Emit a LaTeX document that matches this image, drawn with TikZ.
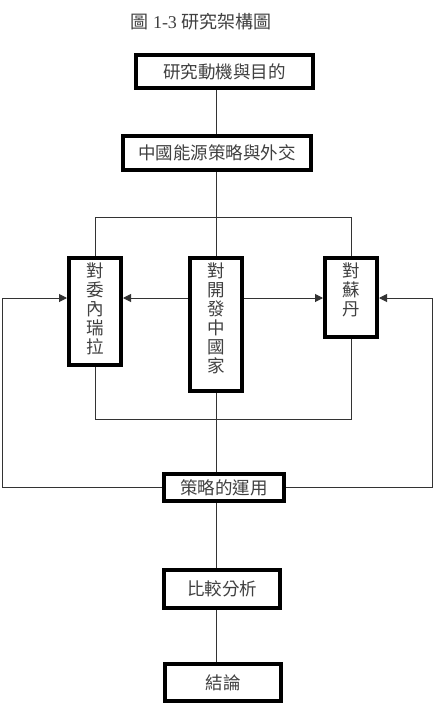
\documentclass[tikz,border=0pt]{standalone}
\usepackage{fontspec}
\setmainfont{Liberation Serif}
\newfontfamily\cjk{Noto Sans CJK TC}
\usetikzlibrary{arrows.meta,calc}
\definecolor{txtgray}{gray}{0.25}
\tikzset{
  bigbox/.style={draw=black,line width=4pt,fill=white,inner sep=0pt,text=txtgray,font=\cjk\fontsize{17.5}{19}\selectfont},
  conn/.style={draw=black!80,line width=1pt},
  arr/.style={conn,-{Triangle[length=8pt,width=8pt]}}
}
\newcommand{\vtext}[2]{\parbox[c][#1][t]{40pt}{\centering\vspace*{5pt}#2}}
\begin{document}
\begin{tikzpicture}[x=1pt,y=-1pt]
\useasboundingbox (0,0) rectangle (435,723);
\fill[white] (0,0) rectangle (435,723);
\node[text=txtgray] (title) at (201,22) {\fontsize{18}{20}\selectfont{\cjk 圖} 1-3 {\cjk 研究架構圖}};
\node[bigbox,minimum width=177pt,minimum height=33pt] (b1) at (224.5,71.5) {研究動機與目的};
\node[bigbox,minimum width=188pt,minimum height=34pt] (b2) at (217,153) {中國能源策略與外交};
\node[bigbox,minimum width=52pt,minimum height=107pt] (L) at (95,311.5) {\vtext{107pt}{對\\委\\內\\瑞\\拉}};
\node[bigbox,minimum width=52pt,minimum height=133pt] (M) at (216,324.5) {\vtext{133pt}{對\\開\\發\\中\\國\\家}};
\node[bigbox,minimum width=52pt,minimum height=79pt] (R) at (351,297.5) {\vtext{79pt}{對\\蘇\\丹}};
\node[bigbox,minimum width=120pt,minimum height=27pt] (s) at (224,487.5) {策略的運用};
\node[bigbox,minimum width=116pt,minimum height=38pt] (c) at (222,589) {比較分析};
\node[bigbox,minimum width=116pt,minimum height=37pt] (e) at (223,682.5) {結論};
\coordinate (cx) at (216,0);
\coordinate (tb) at (0,217);
\coordinate (bb) at (0,419);
\coordinate (ay) at (0,298);
\coordinate (xl) at (2,298);
\coordinate (xr) at (432,298);
\draw[conn] (cx |- b1.south) -- (cx |- b2.north);
\draw[conn] (cx |- b2.south) -- (cx |- M.north);
\draw[conn] (L.north) -- (L.north |- tb) -- (R.north |- tb) -- (R.north);
\draw[conn] (L.south) -- (L.south |- bb) -- (R.south |- bb) -- (R.south);
\draw[conn] (M.south) -- (cx |- s.north);
\draw[arr] (M.west |- ay) -- (L.east |- ay);
\draw[arr] (M.east |- ay) -- (R.west |- ay);
\draw[arr] (s.west) -- (xl |- s.west) -- (xl) -- (L.west |- ay);
\draw[arr] (s.east) -- (xr |- s.east) -- (xr) -- (R.east |- ay);
\draw[conn] (cx |- s.south) -- (cx |- c.north);
\draw[conn] (cx |- c.south) -- (cx |- e.north);
\end{tikzpicture}
\end{document}
